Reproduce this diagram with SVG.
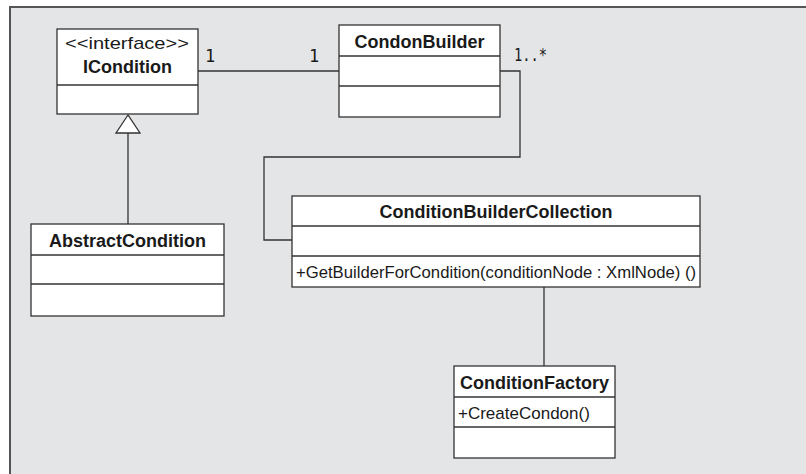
<svg xmlns="http://www.w3.org/2000/svg" width="806" height="474" viewBox="0 0 806 474">
  <style>
    .box { fill: #ffffff; stroke: #333333; stroke-width: 1.3; }
    .div { stroke: #333333; stroke-width: 1.3; }
    .edge { fill: none; stroke: #333333; stroke-width: 1.3; }
    .title { font-family: "Liberation Sans", Arial, sans-serif; font-weight: bold; font-size: 18px; fill: #1a1a1a; text-anchor: middle; }
    .txt { font-family: "Liberation Sans", Arial, sans-serif; font-size: 17px; fill: #1a1a1a; }
    .mult { font-family: "DejaVu Sans Mono", "Liberation Mono", monospace; font-size: 17px; fill: #1a1a1a; }
  </style>

  <!-- page background and frame -->
  <rect x="0" y="0" width="806" height="474" fill="#ffffff"/>
  <rect x="10" y="7" width="820" height="490" fill="#e4e5e7" stroke="#555555" stroke-width="2"/>

  <!-- connectors -->
  <g id="connectors">
    <polyline class="edge" points="198,71 339,71"/>
    <polyline class="edge" points="500,71 520,71 520,157 264,157 264,240 292,240"/>
    <line class="edge" x1="128" y1="224" x2="128" y2="133"/>
    <polygon points="128,115 116,133 140,133" fill="#ffffff" stroke="#333333" stroke-width="1.3"/>
    <line class="edge" x1="544" y1="287" x2="544" y2="366"/>
    <text class="mult" x="205" y="62">1</text>
    <text class="mult" x="309" y="62">1</text>
    <text class="mult" x="514" y="61" textLength="33" lengthAdjust="spacingAndGlyphs">1..*</text>
  </g>

  <g id="ICondition">
    <rect class="box" x="57" y="29" width="141" height="85"/>
    <line class="div" x1="57" y1="85" x2="198" y2="85"/>
    <text class="txt" x="65" y="49" textLength="124" lengthAdjust="spacingAndGlyphs">&lt;&lt;interface&gt;&gt;</text>
    <text class="title" x="127.5" y="73">ICondition</text>
  </g>

  <g id="CondonBuilder">
    <rect class="box" x="339" y="25" width="161" height="92"/>
    <line class="div" x1="339" y1="56" x2="500" y2="56"/>
    <line class="div" x1="339" y1="86" x2="500" y2="86"/>
    <text class="title" x="419.5" y="48">CondonBuilder</text>
  </g>

  <g id="AbstractCondition">
    <rect class="box" x="31" y="224" width="193" height="92"/>
    <line class="div" x1="31" y1="255" x2="224" y2="255"/>
    <line class="div" x1="31" y1="284" x2="224" y2="284"/>
    <text class="title" x="127.5" y="247">AbstractCondition</text>
  </g>

  <g id="ConditionBuilderCollection">
    <rect class="box" x="292" y="196" width="408" height="91"/>
    <line class="div" x1="292" y1="226" x2="700" y2="226"/>
    <line class="div" x1="292" y1="256" x2="700" y2="256"/>
    <text class="title" x="496" y="218">ConditionBuilderCollection</text>
    <text class="txt" x="296" y="278" textLength="400" lengthAdjust="spacingAndGlyphs">+GetBuilderForCondition(conditionNode : XmlNode) ()</text>
  </g>

  <g id="ConditionFactory">
    <rect class="box" x="454" y="366" width="161" height="92"/>
    <line class="div" x1="454" y1="397" x2="615" y2="397"/>
    <line class="div" x1="454" y1="427" x2="615" y2="427"/>
    <text class="title" x="534.5" y="389">ConditionFactory</text>
    <text class="txt" x="458" y="419">+CreateCondon()</text>
  </g>
</svg>
